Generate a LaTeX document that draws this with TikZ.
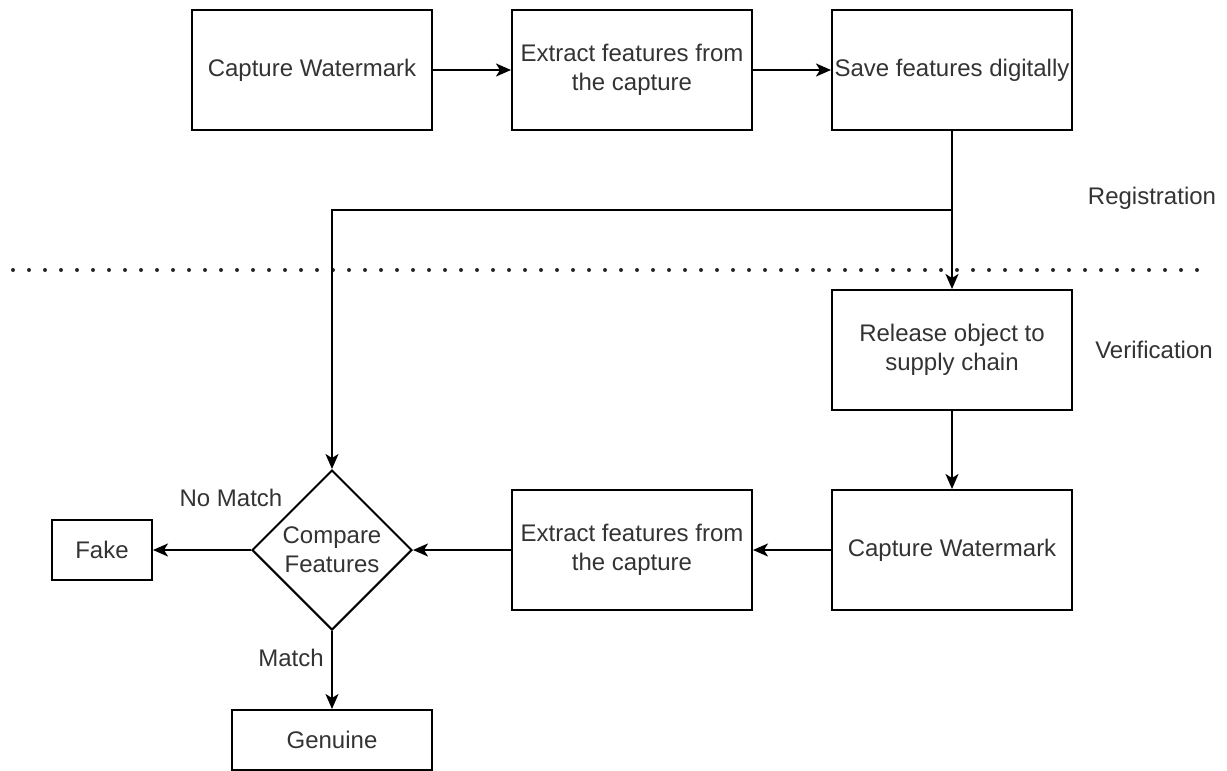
\documentclass[tikz,border=0pt]{standalone}
\usepackage{fontspec}
\setmainfont{Liberation Sans}
\usetikzlibrary{arrows.meta,shapes.geometric}

\tikzset{
  base/.style={font=\fontsize{24pt}{29pt}\selectfont, text=black!80},
  box/.style={base, draw=black, line width=2pt, rectangle, inner sep=0pt,
              minimum width=240pt, minimum height=120pt, align=center},
  smallbox/.style={box, minimum width=#1, minimum height=60pt},
  decision/.style={base, draw=black, line width=2pt, diamond, shape aspect=1,
                   inner sep=0pt, minimum width=160pt, minimum height=160pt, align=center},
  flow/.style={draw=black, line width=2pt,
               -{Stealth[length=15pt,width=13pt,inset=4pt]}},
  plain/.style={draw=black, line width=2pt},
  lbl/.style={base, inner sep=0pt},
  divider/.style={draw=black!85, line width=4pt, line cap=round,
                  dash pattern=on 0pt off 16pt}
}

\begin{document}
\begin{tikzpicture}[x=1pt, y=-1pt]
  \useasboundingbox (0,0) rectangle (1227,771);

  % registration phase
  \node[box] (cap1) at (312,70) {Capture Watermark};
  \node[box] (ext1) at (632,70) {Extract features from\\the capture};
  \node[box] (save) at (952,70) {Save features digitally};

  % verification phase
  \node[box] (rel)  at (952,350) {Release object to\\supply chain};
  \node[box] (cap2) at (952,550) {Capture Watermark};
  \node[box] (ext2) at (632,550) {Extract features from\\the capture};
  \node[decision] (cmp) at (332,550) {Compare\\Features};
  \node[smallbox=100pt] (fake) at (102,550) {Fake};
  \node[smallbox=200pt] (gen) at (332,740) {Genuine};

  % phase labels and separator
  \node[lbl] (reglbl) at (1152,198) {Registration};
  \node[lbl] (verlbl) at (1154,350) {Verification};
  \coordinate (divL) at (13,270);
  \coordinate (divR) at (1205,270);
  \draw[divider] (divL) -- (divR);

  % connectors
  \coordinate (branch) at (952,210);
  \draw[flow] (cap1) -- (ext1);
  \draw[flow] (ext1) -- (save);
  \draw[flow] (save) -- (rel);
  \draw[flow] (branch) -| (cmp.north);
  \draw[flow] (rel) -- (cap2);
  \draw[flow] (cap2) -- (ext2);
  \draw[flow] (ext2) -- (cmp.east);
  \draw[flow] (cmp.west) -- (fake);
  \draw[flow] (cmp.south) -- (gen);

  % decision outcomes
  \node[lbl] (nomatch) at (231,498) {No Match};
  \node[lbl] (match) at (291,658) {Match};
\end{tikzpicture}
\end{document}
